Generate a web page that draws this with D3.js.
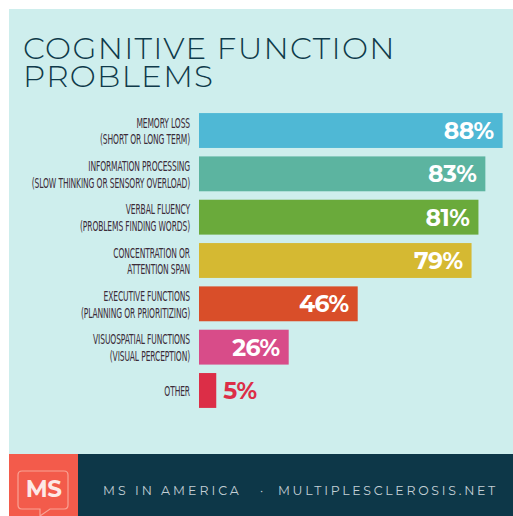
<!DOCTYPE html>
<html><head><meta charset="utf-8">
<script src="https://cdn.jsdelivr.net/npm/d3@7/dist/d3.min.js"></script>
<style>
html,body{margin:0;padding:0;background:#fff;}
svg{display:block;}
</style></head>
<body>
<script>
const titleLines = ["COGNITIVE FUNCTION", "PROBLEMS"];
const categories = [
  ["MEMORY LOSS", "(SHORT OR LONG TERM)"],
  ["INFORMATION PROCESSING", "(SLOW THINKING OR SENSORY OVERLOAD)"],
  ["VERBAL FLUENCY", "(PROBLEMS FINDING WORDS)"],
  ["CONCENTRATION OR", "ATTENTION SPAN"],
  ["EXECUTIVE FUNCTIONS", "(PLANNING OR PRIORITIZING)"],
  ["VISUOSPATIAL FUNCTIONS", "(VISUAL PERCEPTION)"],
  ["OTHER"]
];
const values = [88, 83, 81, 79, 46, 26, 5];
const colors = ["#4fb8d5", "#5cb4a0", "#6aaa3b", "#d5b932", "#d94e29", "#d84c89", "#dc2e47"];
const footerLeft = "MS IN AMERICA";
const footerDot = "·";
const footerRight = "MULTIPLESCLEROSIS.NET";

const W = 513, H = 516;
const svg = d3.select("body").append("svg").attr("width", W).attr("height", H);

// panel
svg.append("rect").attr("x", 9).attr("y", 9).attr("width", W - 9).attr("height", 445).attr("fill", "#ceeeed");

// title
const title = svg.append("text").attr("x", 23).attr("fill", "#0f3a4a")
  .style("font-family", "Montserrat, 'Open Sans', Lato, sans-serif")
  .style("font-weight", 300).style("font-size", "31px").style("letter-spacing", "1.3px");
title.selectAll("tspan").data(titleLines).join("tspan")
  .attr("x", 23).attr("y", (d, i) => 58.5 + i * 28).text(d => d);

// scales
const x = d3.scaleLinear().domain([0, 100]).range([199, 544]);
const y = d3.scaleBand().domain(d3.range(values.length)).range([113 - 4.25, 408 + 4.25]).paddingInner(0.195).paddingOuter(0.1);

const rows = svg.append("g").selectAll("g").data(values).join("g");

rows.append("rect")
  .attr("x", x(0)).attr("y", (d, i) => y(i))
  .attr("width", d => x(d) - x(0)).attr("height", y.bandwidth())
  .attr("fill", (d, i) => colors[i]);

rows.append("text")
  .attr("x", (d) => d < 15 ? x(d) + 7 : x(d) - 9)
  .attr("y", (d, i) => y(i) + y.bandwidth() / 2 + 8.5)
  .attr("text-anchor", d => d < 15 ? "start" : "end")
  .attr("fill", (d, i) => d < 15 ? colors[i] : "#ffffff")
  .style("font-family", "Montserrat, 'Open Sans', Lato, sans-serif")
  .style("font-weight", 700).style("font-size", "23.5px").style("letter-spacing", "-0.5px")
  .text(d => d + "%");

// category labels (condensed)
const labelG = svg.append("g");
categories.forEach((lines, i) => {
  const cy = y(i) + y.bandwidth() / 2;
  const n = lines.length;
  const g = labelG.append("g").attr("transform", `translate(190,0) scale(0.6,1)`);
  lines.forEach((t, j) => {
    g.append("text")
      .attr("x", 0)
      .attr("y", cy + 5.5 + (j - (n - 1) / 2) * 16.7)
      .attr("text-anchor", "end")
      .attr("fill", "#3b2b38")
      .style("font-family", "'Liberation Sans Narrow', 'DejaVu Sans Condensed', 'Roboto Condensed', sans-serif")
      .style("font-size", "14px")
      .style("letter-spacing", "-0.2px")
      .text(t);
  });
});

// footer
svg.append("rect").attr("x", 9).attr("y", 454).attr("width", W - 9).attr("height", H - 454).attr("fill", "#0d3748");
svg.append("rect").attr("x", 9).attr("y", 454).attr("width", 69).attr("height", H - 454).attr("fill", "#f35b4b");
// bubble logo
const bubble = "M22,471 H64 Q68,471 68,475 V505 Q68,509 64,509 H50 L40,516 L40,509 H22 Q18,509 18,505 V475 Q18,471 22,471 Z";
svg.append("path").attr("d", bubble).attr("fill", "none").attr("stroke", "#f9a395").attr("stroke-width", 1.2);
svg.append("text").attr("x", 43.5).attr("y", 497).attr("text-anchor", "middle").attr("fill", "#fde9e6")
  .style("font-family", "Montserrat, 'Open Sans', Lato, sans-serif").style("font-weight", 700)
  .style("font-size", "23px").style("letter-spacing", "-0.5px").text("MS");

const footStyle = sel => sel.attr("y", 495).attr("fill", "#c4d0d6")
  .style("font-family", "Montserrat, 'Open Sans', Lato, sans-serif").style("font-weight", 400)
  .style("font-size", "12.5px").style("letter-spacing", "3px");
svg.append("text").attr("x", 103).call(footStyle).text(footerLeft);
svg.append("text").attr("x", 260).call(footStyle).text(footerDot);
svg.append("text").attr("x", 498).attr("text-anchor", "end").call(footStyle).style("letter-spacing", "2.7px").text(footerRight);
</script>
</body></html>
